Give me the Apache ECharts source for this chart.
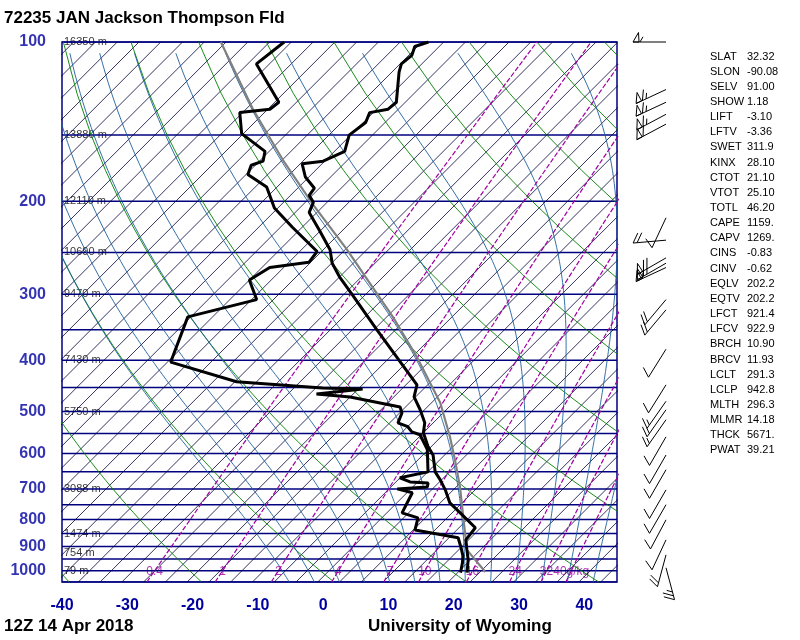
<!DOCTYPE html>
<html>
<head>
<meta charset="utf-8">
<script src="https://cdn.jsdelivr.net/npm/echarts@6/dist/echarts.min.js"></script>
<style>
html, body { margin: 0; padding: 0; background: #fff; }
#chart { width: 800px; height: 640px; }
</style>
</head>
<body>
<div id="chart"></div>
<script>
// sounding, [pressure hPa, value degC]
var tempProfile = [
    [1008, 20.6], [953, 18.8], [913, 17.1], [874, 15.4], [829, 15.0], [777, 10.4],
    [744, 7.3], [703, 4.6], [673, 2.3], [650, 0.3], [604, -2.6], [583, -4.6],
    [548, -7.5], [525, -8.8], [496, -11.5], [469, -14.4], [445, -15.8], [394, -23.2],
    [350, -30.4], [301, -39.4], [278, -44.2], [262, -47.4], [247, -49.8], [227, -54.4],
    [210, -58.7], [201, -59.6], [195, -61.3], [189, -61.6], [180, -64.7], [170, -67.2],
    [168, -64.4], [161, -62.6], [150, -64.4], [142, -63.8], [136, -64.7], [134, -62.4],
    [130, -62.2], [114, -66.4], [110, -67.3], [106, -67.0], [102, -67.9], [100, -66.5]
];
var dewProfile = [
    [1008, 19.6], [966, 18.4], [937, 17.4], [905, 15.9], [866, 13.9], [837, 6.1],
    [794, 4.7], [777, 1.5], [712, 0.0], [700, -2.9], [694, 1.4], [682, 0.9],
    [679, -2.0], [667, -4.2], [650, -0.8], [590, -4.3], [553, -7.7], [546, -9.4],
    [534, -10.8], [525, -12.9], [503, -13.8], [490, -15.0], [469, -24.2], [463, -29.8],
    [453, -23.5], [451, -29.8], [439, -43.9], [403, -57.0], [331, -61.3], [307, -53.4],
    [282, -57.5], [267, -56.3], [261, -51.1], [249, -51.5], [224, -59.0], [206, -64.7],
    [188, -69.1], [178, -73.9], [171, -74.8], [168, -73.6], [161, -74.8], [149, -81.1],
    [136, -84.6], [134, -80.5], [130, -80.2], [110, -89.5], [100, -88.6]
];
var parcelProfile = [
    [1005, 23.3], [913, 17.1], [791, 11.5], [694, 6.4], [617, 1.5], [558, -2.8],
    [481, -9.5], [394, -20.1], [331, -29.9], [273, -41.3], [247, -47.2], [203, -59.3],
    [167, -70.8], [134, -83.1], [100, -98.3]
];
// wind: [pressure, direction deg, speed kt]
var winds = [
    [100, 270, 55], [123, 245, 65], [130, 245, 65], [137, 242, 65], [143, 242, 60],
    [215, 205, 10], [237, 265, 20], [256, 240, 70], [262, 240, 65], [267, 245, 55],
    [307, 220, 20], [321, 220, 20], [381, 212, 10], [445, 212, 10], [478, 215, 15],
    [496, 215, 15], [518, 215, 15], [558, 210, 10], [604, 210, 10], [644, 210, 10],
    [703, 210, 10], [750, 210, 10], [801, 208, 10], [874, 205, 10], [933, 195, 20],
    [987, 165, 25]
];
var pressureLabels = [100, 200, 300, 400, 500, 600, 700, 800, 900, 1000];
var heightLevels = [100, 150, 200, 250, 300, 400, 500, 700, 850, 925, 1000];
var heightValues = ['16350', '13880', '12110', '10690', '9470', '7430', '5750', '3088', '1474', '754', '79'];
var mixRatios = [0.4, 1, 2, 4, 7, 10, 16, 24, 32, 40];
var indexNames = ['SLAT', 'SLON', 'SELV', 'SHOW', 'LIFT', 'LFTV', 'SWET', 'KINX', 'CTOT', 'VTOT',
    'TOTL', 'CAPE', 'CAPV', 'CINS', 'CINV', 'EQLV', 'EQTV', 'LFCT', 'LFCV', 'BRCH', 'BRCV',
    'LCLT', 'LCLP', 'MLTH', 'MLMR', 'THCK', 'PWAT'];
var indexValues = ['32.32', '-90.08', '91.00', '1.18', '-3.10', '-3.36', '311.9', '28.10', '21.10',
    '25.10', '46.20', '1159.', '1269.', '-0.83', '-0.62', '202.2', '202.2', '921.4', '922.9',
    '10.90', '11.93', '291.3', '942.8', '296.3', '14.18', '5671.', '39.21'];

var PBOT = 1050, PTOP = 100;
var SKEW = 35.14;

function skewX(t, p) {
    return t + SKEW * Math.log(PBOT / p);
}
function skewed(list) {
    return list.map(function(d) { return [skewX(d[1], d[0]), d[0]]; });
}
function esat(t) {
    return 6.112 * Math.exp(17.67 * t / (t + 243.5));
}
function pressures(step) {
    var out = [];
    for (var p = PBOT; p >= PTOP; p -= step) out.push(p);
    if (out[out.length - 1] != PTOP) out.push(PTOP);
    return out;
}

var series = [];
function guide(data, color, width, type) {
    series.push({
        type: 'line', data: data, symbol: 'none', silent: true, animation: false,
        lineStyle: { color: color, width: width, type: type || 'solid' }
    });
}

// isobars
for (var p = 100; p <= 1050; p += 50) {
    guide([[-40, p], [45, p]], '#000080', 1.5);
}
// thin skewed isotherms
for (var k = -28; k <= 26; k++) {
    var t = -37.5 + k * 10 / 3;
    guide([[skewX(t, PBOT), PBOT], [skewX(t, PTOP), PTOP]], '#00003a', 0.8);
}
// dry adiabats
for (var th = 191; th <= 491; th += 20) {
    guide(pressures(25).map(function(p) {
        return [skewX(th * Math.pow(p / 1000, 0.2857) - 273.15, p), p];
    }), '#008000', 0.9);
}
// moist adiabats
function moistLine(t1000) {
    function slope(t, p) {
        var tk = t + 273.15;
        var rs = 0.622 * esat(t) / (p - esat(t));
        return (287 * tk + 2.5e6 * rs) / (1004 + 2.5e6 * 2.5e6 * rs * 0.622 / (287 * tk * tk)) / p;
    }
    var pts = [], t = t1000, p;
    for (p = 1000; p < PBOT; p += 5) t += slope(t, p) * 5;
    for (p = PBOT; p > PTOP; p -= 5) {
        pts.push([skewX(t, p), p]);
        t -= slope(t, p) * 5;
        if (t < -120) break;
    }
    return pts;
}
for (var tw = -8; tw <= 40; tw += 4) {
    guide(moistLine(tw), '#1d5f9e', 0.9);
}
// mixing ratio lines
function mixTemp(w, p) {
    var e = w * p / (622 + w);
    var l = Math.log(e / 6.112);
    return 243.5 * l / (17.67 - l);
}
mixRatios.forEach(function(w) {
    guide(pressures(25).map(function(p) { return [skewX(mixTemp(w, p), p), p]; }), '#a000a0', 1.2, [5, 2]);
});

// parcel and sounding
series.push({ type: 'line', data: skewed(parcelProfile), symbol: 'none', animation: false,
    lineStyle: { color: '#808080', width: 2.2 } });
series.push({ type: 'line', data: skewed(dewProfile), symbol: 'none', animation: false,
    lineStyle: { color: '#000', width: 3 } });
series.push({ type: 'line', data: skewed(tempProfile), symbol: 'none', animation: false,
    lineStyle: { color: '#000', width: 3 } });

// text marks
series.push({
    type: 'scatter', symbolSize: 0, animation: false, silent: true,
    data: pressureLabels.map(function(p) { return { value: [-40, p], name: String(p) }; }),
    label: { show: true, position: 'left', distance: 16, formatter: '{b}',
        color: '#0000a0', fontWeight: 'bold', fontSize: 16, fontFamily: 'Liberation Sans' }
});
series.push({
    type: 'scatter', symbolSize: 0, animation: false, silent: true,
    data: heightLevels.map(function(p, i) { return { value: [-40, p], name: heightValues[i] + ' m' }; }),
    label: { show: true, position: 'right', distance: 2, formatter: '{b}',
        color: '#000', fontSize: 11, fontFamily: 'Liberation Sans' }
});
series.push({
    type: 'scatter', symbolSize: 0, animation: false, silent: true,
    data: mixRatios.map(function(w, i) {
        return { value: [skewX(mixTemp(w, 1000), 1000), 1000], name: i == mixRatios.length - 1 ? w + 'g/kg' : String(w) };
    }),
    label: { show: true, position: 'inside', formatter: '{b}', color: '#a000a0',
        fontSize: 12, fontFamily: 'Liberation Sans', offset: [0, 1] }
});

// wind barbs
series.push({
    type: 'custom', data: winds, clip: false, animation: false, silent: true,
    encode: { x: -1, y: 0 },
    renderItem: function(params, api) {
        var y = api.coord([0, api.value(0)])[1];
        var sx = 666, dir = api.value(1) * Math.PI / 180, spd = api.value(2);
        var dx = Math.sin(dir), dy = -Math.cos(dir), L = 33;
        var a = 120 * Math.PI / 180;
        var fx = dx * Math.cos(a) - dy * Math.sin(a), fy = dx * Math.sin(a) + dy * Math.cos(a);
        var ex = sx + dx * L, ey = y + dy * L;
        var st = { stroke: '#000', lineWidth: 1 };
        var kids = [{ type: 'line', shape: { x1: sx, y1: y, x2: ex, y2: ey }, style: st }];
        var pos = 0, s = Math.round(spd / 5) * 5;
        while (s >= 50) {
            var bx = ex - dx * pos, by = ey - dy * pos;
            kids.push({ type: 'polygon', shape: { points: [[bx, by], [bx + fx * 11, by + fy * 11], [bx - dx * 6, by - dy * 6]] },
                style: { fill: 'none', stroke: '#000', lineWidth: 1 } });
            pos += 7; s -= 50;
        }
        while (s >= 10) {
            var cx = ex - dx * pos, cy = ey - dy * pos;
            kids.push({ type: 'line', shape: { x1: cx, y1: cy, x2: cx + fx * 11, y2: cy + fy * 11 }, style: st });
            pos += 4; s -= 10;
        }
        if (s >= 5) {
            if (pos == 0) pos = 4;
            var hx = ex - dx * pos, hy = ey - dy * pos;
            kids.push({ type: 'line', shape: { x1: hx, y1: hy, x2: hx + fx * 6, y2: hy + fy * 6 }, style: st });
        }
        return { type: 'group', children: kids };
    }
});

var graphics = [
    { type: 'text', left: 4, top: 10, style: { text: '72235 JAN Jackson Thompson Fld', fontSize: 17, fontWeight: 'bold', fill: '#000', fontFamily: 'Liberation Sans' } },
    { type: 'text', left: 4, top: 618, style: { text: '12Z 14 Apr 2018', fontSize: 17, fontWeight: 'bold', fill: '#000', fontFamily: 'Liberation Sans' } },
    { type: 'text', left: 368, top: 618, style: { text: 'University of Wyoming', fontSize: 17, fontWeight: 'bold', fill: '#000', fontFamily: 'Liberation Sans' } }
];
indexNames.forEach(function(n, i) {
    graphics.push({ type: 'text', left: 710, top: 51 + i * 15.15, style: { text: n, fontSize: 11, fill: '#000', fontFamily: 'Liberation Sans' } });
    graphics.push({ type: 'text', left: 747, top: 51 + i * 15.15, style: { text: indexValues[i], fontSize: 11, fill: '#000', fontFamily: 'Liberation Sans' } });
});

var chart = echarts.init(document.getElementById('chart'));
chart.setOption({
    backgroundColor: '#fff',
    animation: false,
    grid: { left: 62, right: 183, top: 42, bottom: 58, show: true, borderColor: '#000080', borderWidth: 1.5 },
    xAxis: {
        type: 'value', min: -40, max: 45, interval: 10,
        axisLine: { show: false }, axisTick: { show: false }, splitLine: { show: false },
        axisLabel: { showMaxLabel: false, margin: 16, color: '#0000a0', fontWeight: 'bold', fontSize: 16, fontFamily: 'Liberation Sans' }
    },
    yAxis: {
        type: 'log', logBase: 10, min: PTOP, max: PBOT, inverse: true,
        axisLine: { show: false }, axisTick: { show: false }, splitLine: { show: false },
        axisLabel: { show: false }
    },
    graphic: graphics,
    series: series
});
</script>
</body>
</html>
